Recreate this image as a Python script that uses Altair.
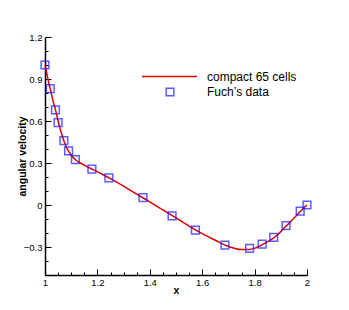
import altair as alt
import pandas as pd

# Fuch's data
fuch_x = [1.0, 1.02, 1.04, 1.05, 1.072, 1.09, 1.116, 1.179, 1.244, 1.374,
          1.485, 1.574, 1.687, 1.781, 1.829, 1.873, 1.92, 1.974, 2.0]
fuch_y = [1.0, 0.832, 0.68, 0.589, 0.46, 0.386, 0.324, 0.257, 0.193, 0.052,
          -0.077, -0.179, -0.286, -0.310, -0.279, -0.232, -0.148, -0.043, 0.0]

# compact 65 cells curve
line_x = [1.0, 1.01, 1.02, 1.03, 1.04, 1.05, 1.06, 1.07, 1.08, 1.09, 1.10,
          1.12, 1.15, 1.18, 1.22, 1.26, 1.30, 1.35, 1.40, 1.45, 1.50, 1.55,
          1.60, 1.65, 1.70, 1.75, 1.78, 1.80, 1.83, 1.85, 1.875, 1.90, 1.92,
          1.95, 1.975, 2.0]
line_y = [1.0, 0.91, 0.83, 0.75, 0.68, 0.60, 0.53, 0.47, 0.42, 0.385, 0.355,
          0.318, 0.285, 0.256, 0.218, 0.178, 0.135, 0.078, 0.022, -0.035,
          -0.092, -0.151, -0.205, -0.252, -0.296, -0.318, -0.318, -0.310,
          -0.283, -0.262, -0.232, -0.19, -0.152, -0.095, -0.045, 0.0]

x_major = [1.0, 1.2, 1.4, 1.6, 1.8, 2.0]
y_major = [-0.3, 0.0, 0.3, 0.6, 0.9, 1.2]
x_minor = [round(1.0 + 0.05 * i, 2) for i in range(21)]
y_minor = [round(-0.5 + 0.1 * i, 1) for i in range(18)]

line_name = "compact 65 cells"
pts_name = "Fuch\u2019s data"

W, H = 262, 238
FONT = "Liberation Sans"

line_df = pd.DataFrame({"x": line_x, "y": line_y, "s": line_name})
pts_df = pd.DataFrame({"x": fuch_x, "y": fuch_y, "p": pts_name})

xs = alt.Scale(domain=[1, 2], nice=False, zero=False)
ys = alt.Scale(domain=[-0.5, 1.2], nice=False, zero=False)

label_axis_x = alt.Axis(orient="bottom", values=x_major, ticks=False, tickSize=0, labelPadding=2,
                        labelFontSize=9.5, labelFont=FONT, labelColor="black",
                        labelFlush=False,
                        domainColor="black", domainWidth=1.5, grid=False,
                        title="x", titleFont=FONT, titleFontSize=10.5,
                        titleFontWeight="bold", titleColor="black", titleY=10,
                        labelExpr="format(datum.value, '~g')")
label_axis_y = alt.Axis(orient="left", values=y_major, ticks=False, tickSize=0, labelPadding=3,
                        labelFontSize=9.5, labelFont=FONT, labelColor="black",
                        labelFlush=False,
                        domainColor="black", domainWidth=1.5, grid=False,
                        title="angular velocity", titleFont=FONT,
                        titleFontSize=10.5, titleFontWeight="bold",
                        titleColor="black", titleX=-18, titleY=H / 2,
                        labelExpr="format(datum.value, '~g')")

tick_axis_x = alt.Axis(orient="top", offset=-H, values=x_minor, labels=False,
                       domain=False, grid=False, title=None, tickColor="black",
                       tickWidth=1,
                       tickSize={"condition": {"test": "round(datum.value*20) % 4 == 0", "value": 6}, "value": 3})
tick_axis_y = alt.Axis(orient="right", offset=-W, values=y_minor, labels=False,
                       domain=False, grid=False, title=None, tickColor="black",
                       tickWidth=1,
                       tickSize={"condition": {"test": "abs(round(datum.value*10)) % 3 == 0", "value": 6}, "value": 3})

line = alt.Chart(line_df).mark_line(interpolate="monotone", strokeWidth=1.5).encode(
    x=alt.X("x:Q", scale=xs, axis=label_axis_x),
    y=alt.Y("y:Q", scale=ys, axis=label_axis_y),
    color=alt.Color("s:N", scale=alt.Scale(domain=[line_name], range=["#dd0000"]),
                    legend=alt.Legend(title=None, orient="none", legendX=96, legendY=11,
                                      symbolType="stroke", symbolSize=3025,
                                      symbolStrokeWidth=1.5, labelFont=FONT,
                                      labelFontSize=12, labelColor="black",
                                      labelOffset=9, padding=0)),
)

pts = alt.Chart(pts_df).mark_point(shape="square", filled=False, size=60,
                                   strokeWidth=1.5, color="#1a1aff").encode(
    x=alt.X("x:Q", scale=xs, axis=tick_axis_x),
    y=alt.Y("y:Q", scale=ys, axis=tick_axis_y),
    shape=alt.Shape("p:N", scale=alt.Scale(domain=[pts_name], range=["square"]),
                    legend=alt.Legend(title=None, orient="none", legendX=119, legendY=49,
                                      symbolSize=60, symbolStrokeWidth=1.5,
                                      symbolStrokeColor="#1a1aff",
                                      symbolFillColor="transparent",
                                      labelFont=FONT, labelFontSize=12,
                                      labelColor="black", labelOffset=31,
                                      padding=0)),
)

chart = alt.layer(line, pts).resolve_axis(x="independent", y="independent").properties(
    width=W, height=H,
    autosize=alt.AutoSizeParams(type="none"),
    padding={"left": 37, "top": 29, "right": 30, "bottom": 25},
    background="white",
).configure_view(stroke=None)

chart.save("out.html", embed_options={"renderer": "svg", "actions": False})
